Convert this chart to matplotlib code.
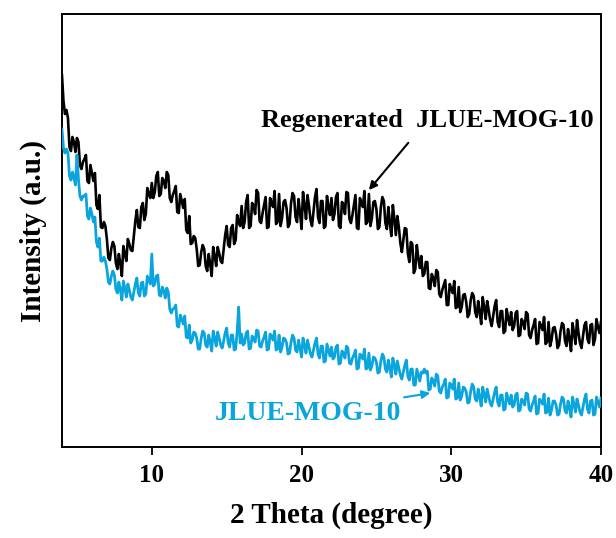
import numpy as np
import matplotlib
matplotlib.use("Agg")
import matplotlib.pyplot as plt

# XRD patterns (arbitrary units), 2-theta 4..40 deg in 0.1 deg steps
regenerated = [
    372, 346, 333, 337, 329, 300, 296, 310, 305, 295, 309, 305, 282, 278, 285, 288, 292, 266, 264, 282,
    274, 266, 274, 242, 238, 252, 220, 219, 225, 221, 208, 189, 187, 199, 205, 201, 184, 178, 193, 183,
    171, 201, 193, 186, 208, 203, 197, 196, 211, 226, 237, 220, 219, 240, 244, 227, 233, 259, 253, 249,
    264, 249, 255, 271, 275, 251, 253, 269, 266, 259, 275, 272, 249, 245, 252, 256, 261, 235, 234, 253,
    246, 239, 248, 217, 214, 231, 203, 204, 211, 209, 198, 181, 182, 195, 202, 198, 181, 176, 193, 183,
    171, 200, 191, 181, 200, 194, 186, 184, 198, 212, 221, 202, 200, 219, 222, 203, 207, 232, 225, 221,
    241, 219, 225, 245, 252, 219, 221, 244, 241, 233, 257, 254, 226, 224, 234, 242, 250, 219, 220, 249,
    244, 240, 256, 223, 225, 253, 221, 229, 245, 247, 239, 220, 223, 244, 254, 251, 230, 225, 248, 234,
    218, 255, 242, 228, 252, 241, 227, 221, 235, 250, 258, 230, 224, 246, 246, 219, 221, 251, 240, 232,
    249, 227, 233, 250, 254, 221, 219, 245, 243, 233, 255, 254, 228, 224, 232, 242, 252, 219, 218, 249,
    244, 240, 256, 223, 225, 253, 221, 229, 245, 246, 238, 218, 220, 240, 250, 246, 224, 218, 240, 224,
    211, 242, 228, 212, 231, 220, 204, 195, 207, 219, 218, 194, 185, 205, 203, 174, 178, 202, 189, 179,
    191, 171, 173, 185, 185, 159, 158, 173, 169, 161, 177, 175, 153, 150, 157, 162, 167, 142, 142, 163,
    158, 154, 166, 139, 140, 160, 135, 140, 152, 153, 145, 130, 133, 147, 154, 151, 135, 130, 146, 135,
    123, 150, 140, 128, 146, 137, 127, 121, 131, 141, 147, 125, 120, 136, 136, 114, 116, 138, 129, 122,
    135, 117, 121, 134, 136, 111, 112, 128, 125, 118, 135, 133, 112, 109, 117, 122, 128, 103, 104, 125,
    121, 117, 130, 103, 105, 125, 101, 107, 119, 120, 113, 99, 102, 116, 124, 122, 106, 101, 118, 108,
    96, 124, 114, 103, 127, 114, 104, 99, 111, 122, 125, 108, 104, 122, 123, 102, 108, 128, 120, 114,
    125,
]
pristine = [
    318, 299, 294, 298, 294, 271, 267, 275, 269, 262, 292, 268, 251, 247, 251, 251, 253, 231, 228, 239,
    233, 225, 230, 205, 200, 209, 186, 186, 190, 186, 178, 165, 163, 171, 176, 172, 158, 154, 165, 157,
    147, 166, 159, 150, 163, 157, 150, 147, 155, 163, 169, 154, 151, 164, 165, 151, 153, 171, 167, 163,
    193, 161, 163, 171, 172, 152, 151, 160, 156, 149, 159, 155, 138, 134, 138, 139, 142, 121, 120, 132,
    128, 123, 131, 110, 109, 122, 104, 107, 115, 114, 109, 98, 98, 109, 116, 114, 102, 100, 112, 105,
    96, 116, 109, 101, 115, 109, 102, 99, 106, 114, 119, 104, 100, 112, 112, 97, 98, 115, 140, 104,
    113, 102, 104, 114, 116, 98, 99, 111, 109, 105, 117, 116, 101, 100, 106, 110, 115, 97, 98, 113,
    111, 107, 116, 97, 98, 112, 95, 100, 109, 108, 104, 93, 94, 105, 112, 109, 97, 95, 107, 99,
    90, 109, 102, 94, 107, 100, 93, 90, 97, 104, 109, 93, 89, 101, 101, 85, 86, 103, 97, 91,
    100, 88, 90, 100, 102, 83, 84, 96, 94, 89, 101, 99, 84, 83, 89, 92, 97, 78, 79, 93,
    91, 88, 98, 78, 79, 94, 77, 81, 90, 89, 85, 74, 75, 86, 93, 90, 78, 75, 87, 79,
    70, 89, 82, 73, 86, 79, 72, 68, 75, 82, 87, 71, 67, 78, 78, 62, 62, 78, 72, 66,
    75, 74, 78, 74, 76, 57, 58, 69, 66, 61, 73, 71, 56, 54, 60, 63, 68, 49, 50, 64,
    62, 58, 68, 48, 49, 64, 47, 51, 60, 59, 55, 44, 45, 56, 63, 60, 48, 46, 58, 50,
    41, 60, 53, 45, 58, 51, 44, 41, 48, 55, 60, 45, 41, 52, 52, 37, 38, 54, 48, 43,
    52, 40, 42, 52, 54, 36, 37, 48, 46, 42, 54, 53, 38, 36, 42, 46, 51, 33, 34, 48,
    46, 43, 53, 34, 35, 49, 32, 37, 46, 46, 42, 32, 33, 43, 50, 48, 36, 34, 46, 39,
    30, 50, 43, 35, 48, 42, 35, 32, 40, 48, 53, 38, 34, 46, 47, 32, 33, 50, 45, 40,
    49,
]
two_theta_black = np.linspace(4, 40, len(regenerated))
two_theta_blue = np.linspace(4, 40, len(pristine))

BLUE = '#0AA5DC'

plt.rcParams.update({
    'font.family': 'Liberation Serif',
    'font.weight': 'bold',
    'axes.labelweight': 'bold',
})

fig = plt.figure(figsize=(6.16, 5.38), dpi=100)
ax = fig.add_axes([0.1006, 0.169, 0.875, 0.805])

ax.plot(two_theta_black, regenerated, color='k', lw=1.9, zorder=3)
ax.plot(two_theta_blue, pristine, color=BLUE, lw=2.0, zorder=4)

ax.annotate('Regenerated  JLUE-MOG-10', xy=(24.5, 257), xytext=(28.4, 327),
            ha='center', va='center', fontsize=19, fontweight='bold', color='k',
            arrowprops=dict(arrowstyle='-|>', color='k', lw=1.5,
                            mutation_scale=12, shrinkA=8, shrinkB=0))
ax.annotate('JLUE-MOG-10', xy=(28.6, 54), xytext=(20.4, 34),
            ha='center', va='center', fontsize=20, fontweight='bold', color=BLUE,
            arrowprops=dict(arrowstyle='-|>', color=BLUE, lw=1.5,
                            mutation_scale=12, shrinkA=2, shrinkB=0))

ax.set_xlim(4, 40)
ax.set_ylim(0, 433)
ax.set_xticks([10, 20, 30, 40])
ax.set_yticks([])
ax.tick_params(axis='x', direction='out', length=6, width=1.3,
               labelsize=18, pad=6)
for sp in ax.spines.values():
    sp.set_linewidth(1.4)

ax.set_xlabel('2 Theta (degree)', fontsize=21, labelpad=11)
ax.set_ylabel('Intensity (a.u.)', fontsize=21, labelpad=11)

fig.savefig('out.png', dpi=100, facecolor='white')
